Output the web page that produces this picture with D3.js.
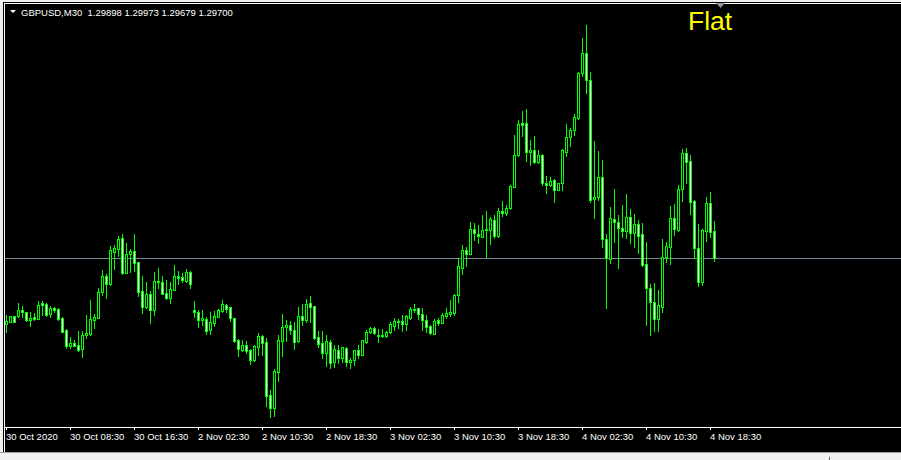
<!DOCTYPE html>
<html>
<head>
<meta charset="utf-8">
<script src="https://cdn.jsdelivr.net/npm/d3@7"></script>
<style>
  html, body { margin: 0; padding: 0; background: #f0f0f0; overflow: hidden; }
  svg { display: block; }
  text { font-family: "Liberation Sans", Arial, sans-serif; }
</style>
</head>
<body>
<div id="chart"></div>
<script>
// GBPUSD M30 bars (oldest first)
const symbol = 'GBPUSD,M30'
const opens = [
  1.29215,1.29230,1.29274,1.29274,1.29318,1.29303,1.29244,1.29266,1.29252,1.29369,
  1.29362,1.29288,1.29332,1.29325,1.29259,1.29171,1.29053,1.29075,1.29061,1.29031,
  1.29134,1.29141,1.29244,1.29259,1.29450,1.29568,1.29509,1.29744,1.29766,1.29847,
  1.29590,1.29729,1.29751,1.29671,1.29457,1.29340,1.29435,1.29318,1.29531,1.29524,
  1.29443,1.29406,1.29465,1.29568,1.29560,1.29531,1.29597,1.29318,1.29303,1.29244,
  1.29252,1.29171,1.29222,1.29266,1.29310,1.29355,1.29340,1.29259,1.29097,1.29024,
  1.29061,1.29024,1.28950,1.29046,1.29127,1.29083,1.28693,1.28597,1.28862,1.29090,
  1.29193,1.29208,1.29171,1.29090,1.29274,1.29244,1.29369,1.29347,1.29119,1.29075,
  1.29002,1.29083,1.28936,1.29024,1.28965,1.29038,1.28936,1.28950,1.29024,1.28987,
  1.29083,1.29156,1.29185,1.29134,1.29127,1.29127,1.29156,1.29200,1.29237,1.29237,
  1.29215,1.29259,1.29318,1.29332,1.29288,1.29244,1.29200,1.29141,1.29244,1.29222,
  1.29274,1.29288,1.29296,1.29428,1.29626,1.29759,1.29729,1.29913,1.29876,1.29854,
  1.29906,1.29906,1.29979,1.29862,1.30045,1.30031,1.30068,1.30222,1.30457,1.30692,
  1.30692,1.30479,1.30494,1.30406,1.30457,1.30251,1.30237,1.30273,1.30200,1.30251,
  1.30479,1.30589,1.30641,1.30729,1.31060,1.31207,1.31008,1.30134,1.30148,1.30295,
  1.29840,1.29693,1.29987,1.29965,1.29921,1.29898,1.30001,1.29884,1.29950,1.29876,
  1.29656,1.29479,1.29377,1.29252,1.29340,1.29707,1.29781,1.29994,1.29906,1.30207,
  1.30472,1.30413,1.30119,1.29774,1.29524,1.29898,1.30104,1.29898
]
const highs = [
  1.29281,1.29274,1.29274,1.29369,1.29347,1.29303,1.29303,1.29296,1.29384,1.29384,
  1.29369,1.29347,1.29340,1.29332,1.29266,1.29178,1.29119,1.29097,1.29163,1.29163,
  1.29281,1.29391,1.29288,1.29479,1.29612,1.29582,1.29788,1.29796,1.29862,1.29876,
  1.29810,1.29766,1.29876,1.29671,1.29568,1.29524,1.29457,1.29597,1.29626,1.29568,
  1.29538,1.29524,1.29649,1.29604,1.29590,1.29619,1.29604,1.29384,1.29318,1.29318,
  1.29266,1.29303,1.29310,1.29325,1.29391,1.29362,1.29340,1.29259,1.29105,1.29097,
  1.29090,1.29031,1.29061,1.29149,1.29134,1.29112,1.28730,1.28884,1.29134,1.29288,
  1.29244,1.29237,1.29230,1.29340,1.29362,1.29399,1.29421,1.29347,1.29163,1.29163,
  1.29134,1.29097,1.29061,1.29061,1.29046,1.29046,1.28965,1.29024,1.29061,1.29097,
  1.29171,1.29193,1.29193,1.29178,1.29178,1.29163,1.29230,1.29259,1.29252,1.29281,
  1.29281,1.29340,1.29362,1.29332,1.29332,1.29281,1.29208,1.29252,1.29259,1.29296,
  1.29332,1.29391,1.29435,1.29700,1.29796,1.29781,1.29965,1.29957,1.29943,1.30016,
  1.30045,1.30001,1.30016,1.30068,1.30119,1.30090,1.30237,1.30604,1.30714,1.30780,
  1.30795,1.30567,1.30597,1.30494,1.30464,1.30303,1.30295,1.30281,1.30251,1.30501,
  1.30685,1.30656,1.30758,1.31067,1.31317,1.31413,1.31067,1.30560,1.30486,1.30420,
  1.29876,1.30075,1.30207,1.30016,1.30090,1.30170,1.30060,1.30023,1.29979,1.29957,
  1.29818,1.29509,1.29516,1.29465,1.29840,1.29818,1.30082,1.30097,1.30237,1.30501,
  1.30509,1.30457,1.30126,1.29950,1.29913,1.30148,1.30185,1.29973
]
const lows = [
  1.29156,1.29227,1.29230,1.29266,1.29266,1.29237,1.29200,1.29244,1.29252,1.29281,
  1.29274,1.29266,1.29303,1.29244,1.29156,1.29038,1.29038,1.29053,1.29016,1.28972,
  1.29112,1.29134,1.29185,1.29259,1.29428,1.29406,1.29502,1.29619,1.29715,1.29582,
  1.29590,1.29597,1.29604,1.29421,1.29296,1.29332,1.29222,1.29281,1.29479,1.29435,
  1.29399,1.29369,1.29465,1.29509,1.29524,1.29524,1.29479,1.29266,1.29193,1.29208,
  1.29141,1.29141,1.29200,1.29266,1.29303,1.29303,1.29237,1.29083,1.28980,1.29016,
  1.29002,1.28921,1.28943,1.28987,1.28987,1.28612,1.28531,1.28539,1.28796,1.28980,
  1.29090,1.29141,1.29031,1.29083,1.29208,1.29230,1.29230,1.29105,1.29046,1.28965,
  1.28906,1.28891,1.28899,1.28928,1.28936,1.28906,1.28891,1.28914,1.28965,1.28987,
  1.29075,1.29149,1.29141,1.29083,1.29119,1.29119,1.29149,1.29171,1.29185,1.29163,
  1.29171,1.29252,1.29303,1.29252,1.29171,1.29156,1.29141,1.29141,1.29208,1.29222,
  1.29259,1.29274,1.29281,1.29377,1.29582,1.29641,1.29729,1.29832,1.29810,1.29854,
  1.29707,1.29803,1.29847,1.29854,1.30009,1.30016,1.30060,1.30222,1.30450,1.30597,
  1.30413,1.30384,1.30398,1.30398,1.30237,1.30178,1.30229,1.30112,1.30200,1.30200,
  1.30450,1.30523,1.30604,1.30722,1.31038,1.30913,1.30112,1.29994,1.30126,1.29781,
  1.29332,1.29663,1.29818,1.29626,1.29854,1.29847,1.29810,1.29781,1.29737,1.29641,
  1.29208,1.29134,1.29163,1.29163,1.29303,1.29671,1.29656,1.29869,1.29898,1.30119,
  1.30251,1.30023,1.29700,1.29494,1.29502,1.29825,1.29854,1.29679
]
const closes = [
  1.29237,1.29274,1.29230,1.29318,1.29303,1.29244,1.29259,1.29252,1.29355,1.29355,
  1.29281,1.29332,1.29318,1.29252,1.29156,1.29053,1.29075,1.29053,1.29024,1.29134,
  1.29149,1.29252,1.29266,1.29450,1.29568,1.29509,1.29759,1.29774,1.29840,1.29590,
  1.29729,1.29751,1.29663,1.29450,1.29340,1.29435,1.29318,1.29531,1.29524,1.29435,
  1.29406,1.29472,1.29568,1.29553,1.29538,1.29597,1.29509,1.29303,1.29244,1.29259,
  1.29163,1.29230,1.29274,1.29318,1.29362,1.29325,1.29259,1.29090,1.29031,1.29061,
  1.29016,1.28950,1.29053,1.29127,1.29075,1.28686,1.28597,1.28869,1.29097,1.29193,
  1.29208,1.29171,1.29083,1.29274,1.29244,1.29362,1.29340,1.29112,1.29068,1.29002,
  1.29090,1.28928,1.29031,1.28965,1.29046,1.28936,1.28950,1.29024,1.28987,1.29097,
  1.29156,1.29185,1.29149,1.29127,1.29134,1.29156,1.29215,1.29237,1.29230,1.29215,
  1.29274,1.29325,1.29325,1.29288,1.29244,1.29193,1.29149,1.29237,1.29222,1.29281,
  1.29296,1.29303,1.29428,1.29641,1.29759,1.29729,1.29913,1.29884,1.29862,1.29906,
  1.29913,1.29987,1.29862,1.30045,1.30031,1.30068,1.30229,1.30457,1.30685,1.30678,
  1.30479,1.30494,1.30406,1.30457,1.30251,1.30237,1.30266,1.30200,1.30251,1.30494,
  1.30589,1.30641,1.30736,1.31060,1.31207,1.31008,1.30126,1.30148,1.30295,1.29840,
  1.29700,1.29994,1.29965,1.29921,1.29898,1.30001,1.29884,1.29950,1.29862,1.29649,
  1.29479,1.29377,1.29252,1.29355,1.29707,1.29788,1.29994,1.29913,1.30207,1.30472,
  1.30406,1.30112,1.29774,1.29524,1.29906,1.30104,1.29891,1.29700
]
// time axis: label text and the bar it sits on
const tickLabels = ['30 Oct 2020', '30 Oct 08:30', '30 Oct 16:30', '2 Nov 02:30', '2 Nov 10:30',
  '2 Nov 18:30', '3 Nov 02:30', '3 Nov 10:30', '3 Nov 18:30', '4 Nov 02:30', '4 Nov 10:30', '4 Nov 18:30']
const tickBars = [0, 16, 32, 48, 64, 80, 96, 112, 128, 144, 160, 176]
const bidPrice = 1.29700
const comment = 'Flat'

function draw(id, width, height) {
  const svg = d3.select(`#${id}`)
  const n = opens.length
  const bottom = 427

  const x = d3.scaleLinear().domain([0, n - 1]).range([6, 6 + 4 * (n - 1)])
  const y = d3.scaleLinear().domain([1.2840, 1.3150]).range([434.9, 13.1])
  const py = v => Math.round(y(v))

  // window frame
  svg.append('rect').attr('x', 0).attr('y', 0).attr('width', width).attr('height', height).style('fill', '#f0f0f0')
  svg.append('rect').attr('x', 3).attr('y', 2).attr('width', width - 3).attr('height', 450).style('fill', '#000')
  svg.append('line').attr('x1', 0).attr('x2', width).attr('y1', 452.5).attr('y2', 452.5)
    .style('stroke', '#a0a0a0')
  svg.append('line').attr('x1', 4.5).attr('x2', 4.5).attr('y1', 3).attr('y2', 452)
    .style('stroke', '#fff')
  svg.append('line').attr('x1', 4).attr('x2', width).attr('y1', 3.5).attr('y2', 3.5)
    .style('stroke', '#fff')
  // little status bar notch
  svg.append('line').attr('x1', 829.5).attr('x2', 829.5).attr('y1', 457).attr('y2', 460)
    .style('stroke', '#5a6e82')

  // bid line
  svg.append('line')
    .attr('x1', 5).attr('x2', width)
    .attr('y1', py(bidPrice) + 0.5).attr('y2', py(bidPrice) + 0.5)
    .style('stroke', '#778899')

  // candles
  const bars = d3.range(n).map(i => ({ i, o: opens[i], h: highs[i], l: lows[i], c: closes[i] }))
  const g = svg.append('g').attr('shape-rendering', 'crispEdges')

  g.selectAll('line.wick').data(bars).enter().append('line')
    .attr('class', 'wick')
    .attr('x1', d => x(d.i) + 0.5).attr('x2', d => x(d.i) + 0.5)
    .attr('y1', d => py(d.h)).attr('y2', d => py(d.l) + 1)
    .style('stroke', '#00ff00')

  g.selectAll('rect.body').data(bars.filter(d => py(d.o) !== py(d.c))).enter().append('rect')
    .attr('class', 'body')
    .attr('x', d => x(d.i) - 0.5)
    .attr('width', 2)
    .attr('y', d => Math.min(py(d.o), py(d.c)) + 0.5)
    .attr('height', d => Math.abs(py(d.o) - py(d.c)))
    .style('fill', d => d.c > d.o ? '#000' : '#fff')
    .style('stroke', '#00ff00')

  g.selectAll('line.doji').data(bars.filter(d => py(d.o) === py(d.c))).enter().append('line')
    .attr('class', 'doji')
    .attr('x1', d => x(d.i) - 1).attr('x2', d => x(d.i) + 2)
    .attr('y1', d => py(d.c) + 0.5).attr('y2', d => py(d.c) + 0.5)
    .style('stroke', '#00ff00')

  // time axis
  const axis = d3.axisBottom(x)
    .tickValues(tickBars)
    .tickFormat((d, k) => tickLabels[k])
    .tickSize(3)
    .tickSizeOuter(0)
  const ax = svg.append('g').attr('transform', `translate(0, ${bottom})`).call(axis)
  ax.select('.domain').remove()
  ax.selectAll('line').style('stroke', '#fff')
  ax.selectAll('text')
    .attr('y', 12.5).attr('dy', 0).attr('x', -0.5)
    .attr('text-anchor', 'start')
    .style('fill', '#fff')
    .style('font-size', '9.5px')
    .style('font-family', '"Liberation Sans", Arial, sans-serif')
  svg.append('line').attr('x1', 4).attr('x2', width).attr('y1', bottom + 0.5).attr('y2', bottom + 0.5)
    .style('stroke', '#fff')

  // header
  svg.append('path').attr('d', 'M10,10 L16,10 L13,13 Z').style('fill', '#fff')
  const last = n - 1
  const fmt = d3.format('.5f')
  svg.append('text')
    .attr('x', 21).attr('y', 15.5)
    .style('fill', '#fff').style('font-size', '9.5px')
    .attr('xml:space', 'preserve')
    .text(`${symbol}  ${fmt(opens[last])} ${fmt(highs[last])} ${fmt(lows[last])} ${fmt(closes[last])}`)

  // chart shift marker
  svg.append('path').attr('d', 'M716,3 L725,3 L720.5,8 Z').style('fill', '#8896a6')

  svg.append('text')
    .attr('x', 688).attr('y', 29.5)
    .style('fill', '#ffff00').style('font-size', '26.5px')
    .text(comment)
}

const width = 901
const height = 460
d3.select('#chart').append('svg')
  .attr('id', 'chart-svg')
  .attr('width', width)
  .attr('height', height)
  .attr('viewBox', `0 0 ${width} ${height}`)
draw('chart-svg', width, height)
</script>
</body>
</html>
